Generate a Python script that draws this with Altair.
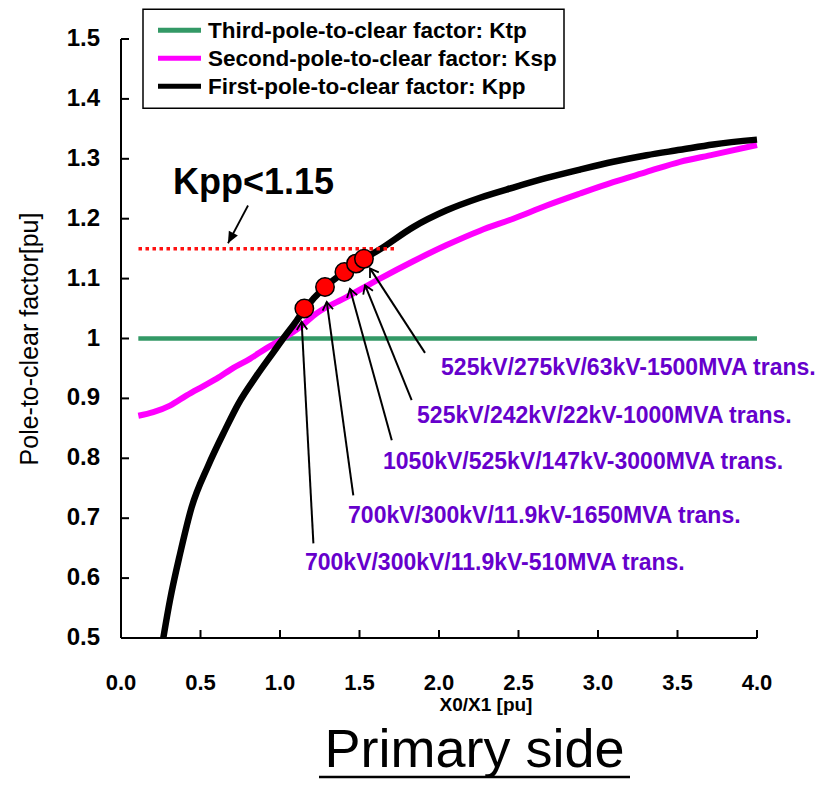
import math
import altair as alt
import pandas as pd

# ---------------- data ----------------
kpp_x = [0.266, 0.308, 0.371, 0.444, 0.549, 0.654, 0.738, 0.853, 0.958, 1.02, 1.105, 1.153,
         1.283, 1.405, 1.478, 1.528, 1.629, 1.838, 2.048, 2.258, 2.467, 2.677, 2.887, 3.096,
         3.306, 3.516, 3.725, 4.0]
kpp_y = [0.50, 0.563, 0.640, 0.718, 0.788, 0.847, 0.891, 0.938, 0.977, 1.0, 1.03, 1.048,
         1.086, 1.111, 1.125, 1.133, 1.149, 1.186, 1.214, 1.235, 1.252, 1.268, 1.282, 1.295,
         1.306, 1.315, 1.324, 1.332]

ksp_x = [0.109, 0.203, 0.308, 0.413, 0.507, 0.602, 0.707, 0.811, 0.916, 1.02, 1.126, 1.23,
         1.419, 1.629, 1.838, 2.048, 2.258, 2.467, 2.677, 2.887, 3.096, 3.306, 3.516, 3.725, 4.0]
ksp_y = [0.871, 0.877, 0.888, 0.905, 0.919, 0.933, 0.951, 0.966, 0.984, 1.0, 1.019, 1.042,
         1.069, 1.1, 1.129, 1.156, 1.18, 1.2, 1.222, 1.242, 1.261, 1.278, 1.295, 1.307, 1.323]

ktp_x = [0.109, 4.0]
ktp_y = [1.0, 1.0]

series_names = ["Third-pole-to-clear factor: Ktp",
                "Second-pole-to-clear factor: Ksp",
                "First-pole-to-clear factor: Kpp"]
series_colors = ["#339966", "#FF00FF", "#000000"]
series_widths = [4.5, 6, 6.5]

trans_x = [1.153, 1.283, 1.405, 1.478, 1.528]
trans_y = [1.05, 1.086, 1.111, 1.125, 1.133]
trans_labels = ["700kV/300kV/11.9kV-510MVA trans.",
                "700kV/300kV/11.9kV-1650MVA trans.",
                "1050kV/525kV/147kV-3000MVA trans.",
                "525kV/242kV/22kV-1000MVA trans.",
                "525kV/275kV/63kV-1500MVA trans."]
label_x = [1.157, 1.428, 1.648, 1.862, 2.013]
label_y = [0.625, 0.703, 0.793, 0.870, 0.950]
tail_x = [1.21, 1.461, 1.703, 1.828, 1.912]
tail_y = [0.658, 0.738, 0.83, 0.897, 0.976]
head_x = [1.136, 1.294, 1.44, 1.535, 1.566]
head_y = [1.028, 1.061, 1.083, 1.089, 1.117]

limit_value = 1.15
limit_x = [0.11, 1.73]
limit_text = "Kpp<1.15"
limit_text_pos = [0.327, 1.242]
limit_arrow_tail = [0.799, 1.222]
limit_arrow_head = [0.673, 1.159]

x_ticks = [0.0, 0.5, 1.0, 1.5, 2.0, 2.5, 3.0, 3.5, 4.0]
y_ticks = [0.5, 0.6, 0.7, 0.8, 0.9, 1.0, 1.1, 1.2, 1.3, 1.4, 1.5]
x_title = "X0/X1 [pu]"
y_title = "Pole-to-clear factor[pu]"
caption = "Primary side"

# ---------------- layout ----------------
W, H = 636, 599
PX_X = W / 4.0
PX_Y = H / 1.0
SANS = "Liberation Sans"

xs = alt.Scale(domain=[0, 4], nice=False, zero=False)
ys = alt.Scale(domain=[0.5, 1.5], nice=False, zero=False)


def X(f):
    return alt.X(f, scale=xs, axis=None)


def Y(f):
    return alt.Y(f, scale=ys, axis=None)


layers = []

# series lines
line_specs = [(ktp_x, ktp_y), (ksp_x, ksp_y), (kpp_x, kpp_y)]
for i, (sx, sy) in enumerate(line_specs):
    df = pd.DataFrame({"x": sx, "y": sy})
    layers.append(
        alt.Chart(df).mark_line(color=series_colors[i], strokeWidth=series_widths[i],
                                strokeCap="butt", interpolate="monotone", clip=False).encode(
            x=X("x:Q"), y=Y("y:Q"), order="x:Q")
    )

# limit dotted line
df_lim = pd.DataFrame({"x": [limit_x[0]], "x2": [limit_x[1]], "y": [limit_value]})
layers.append(
    alt.Chart(df_lim).mark_rule(color="#FF1111", strokeWidth=3.5, strokeDash=[3.5, 3.5]).encode(
        x=X("x:Q"), x2="x2:Q", y=Y("y:Q"))
)


def angle(tx, ty, hx, hy):
    a = math.degrees(math.atan2((hx - tx) * PX_X, (hy - ty) * PX_Y))
    return a % 360


df_arr = pd.DataFrame({
    "tx": tail_x, "ty": tail_y, "hx": head_x, "hy": head_y,
    "ang": [angle(a, b, c, d) for a, b, c, d in zip(tail_x, tail_y, head_x, head_y)],
})
layers.append(
    alt.Chart(df_arr).mark_rule(color="black", strokeWidth=2).encode(
        x=X("tx:Q"), y=Y("ty:Q"), x2="hx:Q", y2="hy:Q")
)
layers.append(
    alt.Chart(df_arr).mark_point(shape="M-0.65,1L0,0L0.65,1", filled=False, size=260,
                                 color="black", strokeWidth=1.8, opacity=1).encode(
        x=X("hx:Q"), y=Y("hy:Q"), angle=alt.Angle("ang:Q", scale=None))
)

# transformer points
df_pts = pd.DataFrame({"x": trans_x, "y": trans_y})
layers.append(
    alt.Chart(df_pts).mark_point(shape="circle", filled=True, size=340, fill="#FF0000",
                                 stroke="black", strokeWidth=1.5, opacity=1).encode(
        x=X("x:Q"), y=Y("y:Q"))
)

# labels
df_lab = pd.DataFrame({"x": label_x, "y": label_y, "t": trans_labels})
layers.append(
    alt.Chart(df_lab).mark_text(align="left", baseline="middle", font=SANS, fontSize=23,
                                fontWeight="bold", color="#6600CC").encode(
        x=X("x:Q"), y=Y("y:Q"), text="t:N")
)

# Kpp<1.15 annotation
df_kt = pd.DataFrame({"x": [limit_text_pos[0]], "y": [limit_text_pos[1]], "t": [limit_text]})
layers.append(
    alt.Chart(df_kt).mark_text(align="left", baseline="alphabetic", font=SANS, fontSize=36,
                               fontWeight="bold", color="black").encode(
        x=X("x:Q"), y=Y("y:Q"), text="t:N")
)
df_ka = pd.DataFrame({"tx": [limit_arrow_tail[0]], "ty": [limit_arrow_tail[1]],
                      "hx": [limit_arrow_head[0]], "hy": [limit_arrow_head[1]],
                      "ang": [angle(*limit_arrow_tail, *limit_arrow_head)]})
layers.append(
    alt.Chart(df_ka).mark_rule(color="black", strokeWidth=1.8).encode(
        x=X("tx:Q"), y=Y("ty:Q"), x2="hx:Q", y2="hy:Q")
)
layers.append(
    alt.Chart(df_ka).mark_point(shape="M-0.45,1L0,0L0.45,1Z", filled=True, size=520,
                                color="black", opacity=1).encode(
        x=X("hx:Q"), y=Y("hy:Q"), angle=alt.Angle("ang:Q", scale=None))
)

# ---------------- axes (drawn through the scales) ----------------
df_dom = pd.DataFrame({"x": [x_ticks[0]], "x2": [x_ticks[-1]],
                       "y": [y_ticks[0]], "y2": [y_ticks[-1]]})
layers.append(
    alt.Chart(df_dom).mark_rule(color="black", strokeWidth=2).encode(
        x=X("x:Q"), x2="x2:Q", y=Y("y:Q"))
)
layers.append(
    alt.Chart(df_dom).mark_rule(color="black", strokeWidth=2).encode(
        x=X("x:Q"), y=Y("y:Q"), y2="y2:Q")
)
df_xt = pd.DataFrame({"v": x_ticks, "t": [f"{v:.1f}" for v in x_ticks]})
layers.append(
    alt.Chart(df_xt.iloc[1:]).mark_rule(color="black", strokeWidth=2).encode(
        x=X("v:Q"), y=alt.value(H), y2=alt.value(H - 8))
)
layers.append(
    alt.Chart(df_xt).mark_text(align="center", baseline="middle", font=SANS, fontSize=22,
                               fontWeight="bold", color="black").encode(
        x=X("v:Q"), y=alt.value(H + 45), text="t:N")
)
df_yt = pd.DataFrame({"v": y_ticks, "t": [f"{v:g}" for v in y_ticks]})
layers.append(
    alt.Chart(df_yt.iloc[1:]).mark_rule(color="black", strokeWidth=2).encode(
        y=Y("v:Q"), x=alt.value(0), x2=alt.value(8))
)
layers.append(
    alt.Chart(df_yt).mark_text(align="right", baseline="middle", font=SANS, fontSize=24,
                               fontWeight="bold", color="black").encode(
        y=Y("v:Q"), x=alt.value(-21), text="t:N")
)
df_titles = pd.DataFrame({"t": [x_title], "u": [y_title]})
layers.append(
    alt.Chart(df_titles).mark_text(align="center", baseline="middle", font=SANS, fontSize=19,
                                   fontWeight="bold", color="black").encode(
        x=alt.value(365), y=alt.value(H + 67), text="t:N")
)
layers.append(
    alt.Chart(df_titles).mark_text(align="center", baseline="middle", font=SANS, fontSize=25,
                                   angle=270, color="black").encode(
        x=alt.value(-91), y=alt.value(300), text="u:N")
)

# ---------------- legend (drawn) ----------------
df_one = pd.DataFrame({"a": [0]})
layers.append(
    alt.Chart(df_one).mark_rect(fill="white", stroke="black", strokeWidth=1.5).encode(
        x=alt.value(22), x2=alt.value(443), y=alt.value(-29.7), y2=alt.value(69.3))
)
for i, (name, col) in enumerate(zip(series_names, series_colors)):
    row_y = -8.7 + 28 * i
    df_row = pd.DataFrame({"t": [name]})
    layers.append(
        alt.Chart(df_row).mark_rule(strokeWidth=5, color=col).encode(
            x=alt.value(37), x2=alt.value(80), y=alt.value(row_y))
    )
    layers.append(
        alt.Chart(df_row).mark_text(align="left", baseline="middle", font=SANS, fontSize=22.5,
                                    fontWeight="bold", color="black").encode(
            x=alt.value(87), y=alt.value(row_y + 1), text="t:N")
    )

# ---------------- bottom caption ----------------
df_cap = pd.DataFrame({"t": [caption]})
layers.append(
    alt.Chart(df_cap).mark_text(align="center", baseline="alphabetic", font=SANS,
                                fontSize=54, color="black").encode(
        x=alt.value(353.5), y=alt.value(728), text="t:N")
)
layers.append(
    alt.Chart(df_cap).mark_rule(color="black", strokeWidth=2.5).encode(
        x=alt.value(198), x2=alt.value(509), y=alt.value(738))
)

chart = alt.layer(*layers).properties(
    width=W, height=H,
    autosize=alt.AutoSizeParams(type="none"),
    padding={"left": 113, "top": 31, "right": 65, "bottom": 143},
).configure(background="white").configure_view(stroke=None)

chart.save("out.html", embed_options={"renderer": "svg", "actions": False})
